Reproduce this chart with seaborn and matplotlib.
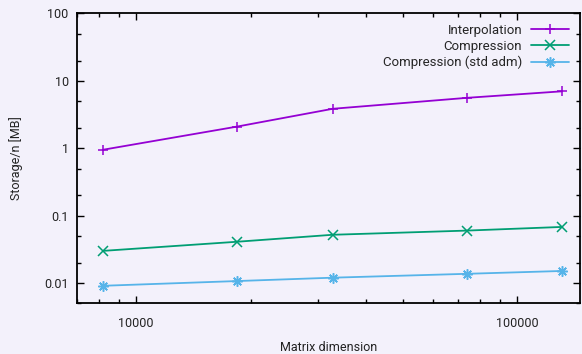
import matplotlib
matplotlib.use("Agg")
import matplotlib.pyplot as plt
import seaborn as sns
import pandas as pd
from matplotlib.ticker import LogLocator, FuncFormatter, NullFormatter

# matrix dimensions and storage per n [MB]
dims = [8192, 18432, 32768, 73728, 131072]
interpolation = [0.95, 2.1, 3.85, 5.6, 7.0]
compression = [0.030, 0.041, 0.052, 0.060, 0.068]
compression_std = [0.0091, 0.0107, 0.0120, 0.0137, 0.0151]

labels = ["Interpolation", "Compression", "Compression (std adm)"]
colors = ["#9400d3", "#009e73", "#56b4e9"]
markers = ["+", "x", (8, 2, 0)]
marker_sizes = [7.5, 6.5, 7.5]

bg = "#f3f1fb"

sns.set_style("ticks")
plt.rcParams["font.family"] = ["Roboto", "DejaVu Sans"]
plt.rcParams["font.size"] = 9

fig = plt.figure(figsize=(5.82, 3.54), dpi=100, facecolor=bg)
ax = fig.add_axes([0.1323, 0.1432, 0.8643, 0.8187])
ax.set_facecolor(bg)

series = [interpolation, compression, compression_std]
for vals, lab, col, mk, ms in zip(series, labels, colors, markers, marker_sizes):
    df = pd.DataFrame({"dim": dims, "storage": vals})
    sns.lineplot(data=df, x="dim", y="storage", ax=ax, color=col, label=lab,
                 marker=mk, markersize=ms, markeredgecolor=col,
                 markeredgewidth=1.1, linewidth=1.3)

ax.set_xscale("log")
ax.set_yscale("log")
ax.set_xlim(7000, 146000)
ax.set_ylim(0.005, 100)

ax.xaxis.set_major_locator(LogLocator(base=10))
ax.xaxis.set_minor_locator(LogLocator(base=10, subs=range(2, 10)))
ax.xaxis.set_minor_formatter(NullFormatter())
ax.xaxis.set_major_formatter(FuncFormatter(lambda v, p: f"{int(round(v))}"))
ax.yaxis.set_major_locator(LogLocator(base=10))
ax.yaxis.set_minor_locator(LogLocator(base=10, subs=(2, 5)))
ax.yaxis.set_minor_formatter(NullFormatter())
ax.yaxis.set_major_formatter(FuncFormatter(lambda v, p: f"{v:g}"))

ax.tick_params(which="both", direction="in", top=True, right=True,
               color="black", labelcolor="#222222", labelsize=9)
ax.tick_params(which="major", length=5, width=1, pad=10)
ax.tick_params(which="minor", length=3, width=1)
ax.tick_params(axis="y", which="major", pad=6)
for s in ax.spines.values():
    s.set_linewidth(1.3)
    s.set_color("black")

ax.set_xlabel("Matrix dimension", fontsize=9, color="#222222")
ax.set_ylabel("Storage/n [MB]", fontsize=9, color="#222222")
ax.xaxis.set_label_coords(0.5, -0.13)
ax.yaxis.set_label_coords(-0.107, 0.5)

ax.legend(loc="upper right", bbox_to_anchor=(0.978, 0.965), frameon=False,
          markerfirst=False, borderaxespad=0, borderpad=0, handlelength=2.85,
          labelspacing=0.24, fontsize=9.5, handletextpad=0.7)

fig.savefig("out.png", dpi=100, facecolor=bg)
